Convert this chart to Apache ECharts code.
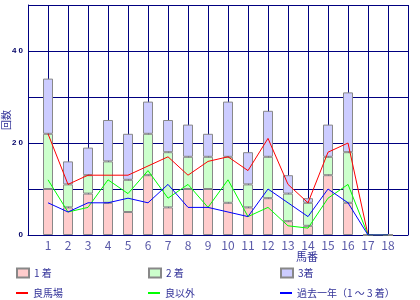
<!DOCTYPE html>
<html><head><meta charset="utf-8">
<script src="https://cdn.jsdelivr.net/npm/echarts@6/dist/echarts.min.js"></script>
<style>html,body{margin:0;padding:0;background:#fff}#c{width:420px;height:300px}</style>
</head><body><div id="c"></div>
<script>
var horses = [1,2,3,4,5,6,7,8,9,10,11,12,13,14,15,16,17,18];
var first  = [10,6,9,7,5,13,6,10,10,7,6,8,3,2,13,7,0,0];
var second = [12,5,4,9,7,9,12,7,7,10,5,9,6,5,4,11,0,0];
var third  = [12,5,6,9,10,7,7,7,5,12,7,10,4,1,7,13,0,0];
var goodTrack  = [22,11,13,13,13,15,17,13,16,17,14,21,11,7,18,20,0,0];
var otherTrack = [12,5,6,12,9,14,8,11,6,12,4,6,2,1.5,8,11,0,0];
var pastYear   = [7,5,7,7,8,7,11,6,6,5,4,10,7,4,10,7,0,0];
var yTickLabels = [0,20,40];
var names = ['1 着','2 着','3着','良馬場','良以外','過去一年（1 ～ 3 着）'];

// category axis padded with one empty slot on each side
var cats = [''].concat(horses.map(String)).concat(['']);
function padded(arr){ return ['-'].concat(arr).concat(['-']); }
var navy = '#000080';
var txt = '#333399';
var font = '"Noto Sans CJK JP", "Noto Sans", sans-serif';

var chart = echarts.init(document.getElementById('c'), null, {renderer:'canvas'});
function barSeries(name, data, color){
  return {name:name, type:'bar', stack:'t', barWidth:10, data:padded(data),
    itemStyle:{color:color, borderColor:'#888888', borderWidth:1}, z:2, animation:false};
}
function lineSeries(name, data, color, z){
  return {name:name, type:'line', data:padded(data), symbol:'none', showSymbol:false,
    lineStyle:{color:color, width:1}, itemStyle:{color:color}, z:z, animation:false};
}
function leg(name, left, top, isLine, color){
  return {left:left, top:top, padding:0, orient:'horizontal',
    itemWidth:12, itemHeight:isLine ? 2 : 9, icon:'rect', selectedMode:false,
    data:[isLine ? {name:name, itemStyle:{color:color, borderWidth:0}} : {name:name}],
    textStyle:{color:txt, fontSize:10, fontFamily:font, lineHeight:14}};
}
chart.setOption({
  backgroundColor:'#ffffff',
  animation:false,
  grid:{left:28, right:12, top:5, bottom:65, containLabel:false, outerBoundsMode:'none'},
  xAxis:{type:'category', data:cats, boundaryGap:false,
    name:'馬番', nameLocation:'middle', nameGap:16, nameMoveOverlap:false,
    nameTextStyle:{color:txt, fontSize:11, fontFamily:font, padding:[0,0,0,178]},
    axisLine:{show:true, lineStyle:{color:navy, width:1}},
    axisTick:{show:false},
    splitLine:{show:true, interval:0, lineStyle:{color:navy, width:1}},
    axisLabel:{color:'#5a5aa8', fontSize:12, fontFamily:font, margin:4, interval:0}
  },
  yAxis:{type:'value', min:0, max:50, interval:10,
    name:'回数', nameLocation:'middle', nameGap:17, nameRotate:90, nameMoveOverlap:false,
    nameTextStyle:{color:txt, fontSize:10, fontFamily:font},
    axisLine:{show:true, lineStyle:{color:navy, width:1}},
    axisTick:{show:false},
    splitLine:{show:true, lineStyle:{color:navy, width:1}},
    axisLabel:{color:'#000066', fontSize:8, fontWeight:'bold', fontFamily:'"Liberation Sans", sans-serif', margin:5,
      formatter:function(v){ return yTickLabels.indexOf(v) >= 0 ? String(v).split('').join(' ') : ''; }}
  },
  legend:[
    leg(names[0], 16, 266, false),
    leg(names[1], 148, 266, false),
    leg(names[2], 280, 266, false),
    leg(names[3], 16, 286, true, '#ff0000'),
    leg(names[4], 148, 286, true, '#00ff00'),
    leg(names[5], 280, 286, true, '#0000ff')
  ],
  series:[
    barSeries(names[0], first, '#ffcccc'),
    barSeries(names[1], second, '#ccffcc'),
    barSeries(names[2], third, '#ccccff'),
    lineSeries(names[3], goodTrack, '#ff0000', 3),
    lineSeries(names[4], otherTrack, '#00ff00', 4),
    lineSeries(names[5], pastYear, '#0000ff', 5)
  ]
});
</script></body></html>
